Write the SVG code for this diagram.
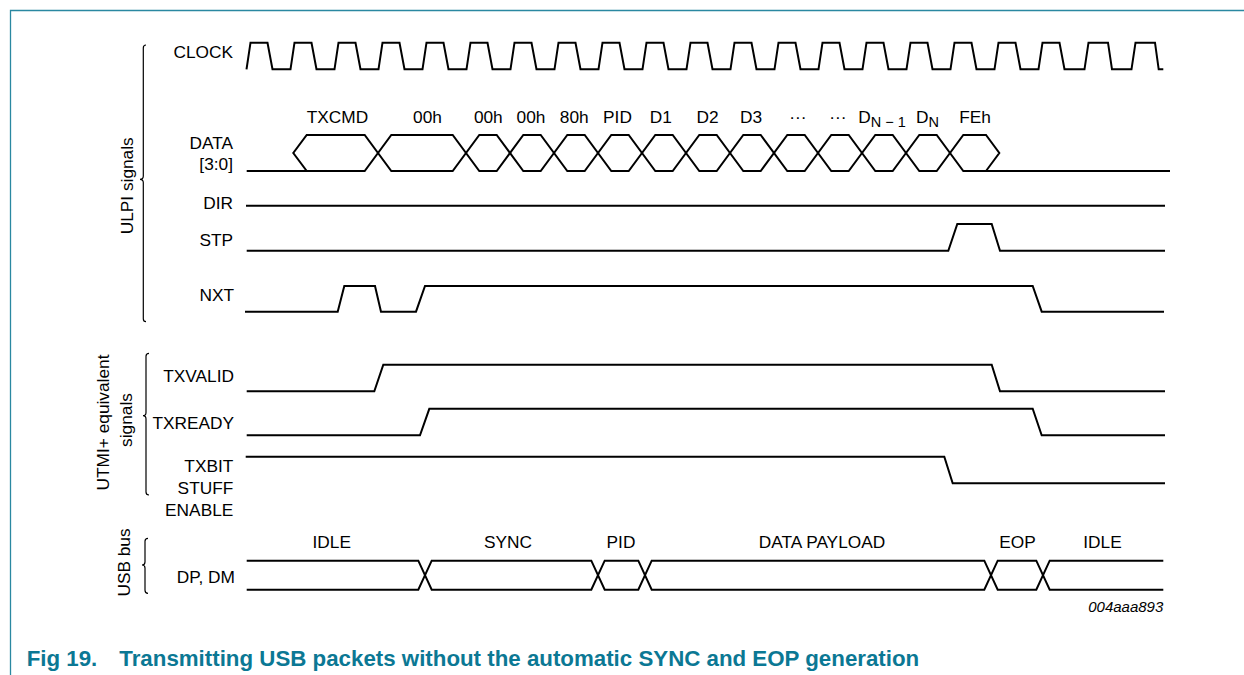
<svg xmlns="http://www.w3.org/2000/svg" width="1244" height="675" viewBox="0 0 1244 675">
<style>
text{font-family:"Liberation Sans",Arial,sans-serif;font-size:17.3px;fill:#000}
.r{text-anchor:end}
.m{text-anchor:middle}
.w{fill:none;stroke:#000;stroke-width:2;stroke-linejoin:miter}
.b{fill:none;stroke:#000;stroke-width:1.2}
.sub{font-size:14.5px}
.cap{font-size:22.3px;font-weight:bold;fill:#0b7894}
.id{font-size:15px;font-style:italic;text-anchor:end}
</style>
<rect width="1244" height="675" fill="#fff"/>
<path d="M10.5,675 V10.5 H1244" fill="none" stroke="#2a88a1" stroke-width="1.3"/>

<g id="group-labels">
<path class="b" d="M146,45 Q143.3,45 143.3,48 V176 Q143.3,179.3 140,179.3 Q143.3,179.3 143.3,182.6 V318.7 Q143.3,321.7 146,321.7"/>
<text class="m" transform="translate(133,185.8) rotate(-90)">ULPI signals</text>
<path class="b" d="M149,353.3 Q146,353.3 146,356.3 V412.5 Q146,415.7 143,415.7 Q146,415.7 146,419 V492 Q146,495 149,495"/>
<text class="m" transform="translate(108.5,422.5) rotate(-90)">UTMI+ equivalent</text>
<text class="m" transform="translate(131.7,420) rotate(-90)">signals</text>
<path class="b" d="M148,538.3 Q145,538.3 145,541.3 V562 Q145,565 142,565 Q145,565 145,568 V590.3 Q145,593.3 148,593.3"/>
<text class="m" transform="translate(130,562.5) rotate(-90)">USB bus</text>
</g>

<g id="clock">
<text class="r" x="233" y="58">CLOCK</text>
<path class="w" d="M246.5,69.3 L250.5,42.7 H267.5 L272.5,69.3 H290.5 L294.5,42.7 H311.5 L316.5,69.3 H334.5 L338.5,42.7 H355.5 L360.5,69.3 H378.5 L382.5,42.7 H399.5 L404.5,69.3 H422.5 L426.5,42.7 H443.5 L448.5,69.3 H466.5 L470.5,42.7 H487.5 L492.5,69.3 H510.5 L514.5,42.7 H531.5 L536.5,69.3 H554.5 L558.5,42.7 H575.5 L580.5,69.3 H598.5 L602.5,42.7 H619.5 L624.5,69.3 H642.5 L646.5,42.7 H663.5 L668.5,69.3 H686.5 L690.5,42.7 H707.5 L712.5,69.3 H730.5 L734.5,42.7 H751.5 L756.5,69.3 H774.5 L778.5,42.7 H795.5 L800.5,69.3 H818.5 L822.5,42.7 H839.5 L844.5,69.3 H862.5 L866.5,42.7 H883.5 L888.5,69.3 H906.5 L910.5,42.7 H927.5 L932.5,69.3 H950.5 L954.5,42.7 H971.5 L976.5,69.3 H994.5 L998.5,42.7 H1015.5 L1020.5,69.3 H1038.5 L1042.5,42.7 H1059.5 L1064.5,69.3 H1084.5 L1088.5,42.7 H1108 L1112,69.3 H1131.5 L1135.5,42.7 H1155 L1158.7,69.3 H1163.3"/>
</g>

<g id="data">
<text class="r" x="233" y="149">DATA</text>
<text class="r" x="233" y="170">[3:0]</text>
<path class="w" d="M246.7,171 H306.7 L293.3,153 L306.7,135 H364.7 L391.3,171 H452.7 L479.3,135 H496.7 L523.3,171 H540.7 L567.3,135 H584.7 L611.3,171 H628.7 L655.3,135 H672.7 L699.3,171 H716.7 L743.3,135 H760.7 L787.3,171 H804.7 L831.3,135 H848.7 L875.3,171 H892.7 L919.3,135 H936.7 L963.3,171 H1170"/>
<path class="w" d="M306.7,171 H364.7 L391.3,135 H452.7 L479.3,171 H496.7 L523.3,135 H540.7 L567.3,171 H584.7 L611.3,135 H628.7 L655.3,171 H672.7 L699.3,135 H716.7 L743.3,171 H760.7 L787.3,135 H804.7 L831.3,171 H848.7 L875.3,135 H892.7 L919.3,171 H936.7 L963.3,135 H986 L999.3,153 L986,171"/>
<text class="m" x="337.5" y="123.3">TXCMD</text>
<text class="m" x="427.5" y="123.3">00h</text>
<text class="m" x="488.3" y="123.3">00h</text>
<text class="m" x="531" y="123.3">00h</text>
<text class="m" x="574.2" y="123.3">80h</text>
<text class="m" x="617.5" y="123.3">PID</text>
<text class="m" x="660.8" y="123.3">D1</text>
<text class="m" x="707.5" y="123.3">D2</text>
<text class="m" x="751" y="123.3">D3</text>
<text class="m" x="798" y="123.3">···</text>
<text class="m" x="838" y="123.3">···</text>
<text x="858.3" y="123.3">D<tspan class="sub" dy="3.5">N − 1</tspan></text>
<text x="916" y="123.3">D<tspan class="sub" dy="3.5">N</tspan></text>
<text class="m" x="975" y="123.3">FEh</text>
</g>

<g id="dir">
<text class="r" x="233" y="209">DIR</text>
<path class="w" d="M246,205.7 H1165"/>
</g>

<g id="stp">
<text class="r" x="233" y="245.7">STP</text>
<path class="w" d="M246.7,250.7 H948.3 L957.3,224 H991.7 L1000,250.7 H1165"/>
</g>

<g id="nxt">
<text class="r" x="234" y="301">NXT</text>
<path class="w" d="M245,311.7 H337.7 L344.3,286 H375 L381,311.7 H416 L425,286 H1032.7 L1041.7,311.7 H1164"/>
</g>

<g id="txvalid">
<text class="r" x="234" y="382">TXVALID</text>
<path class="w" d="M246.7,391.3 H374.3 L383.3,364.8 H991.7 L1000,391.3 H1165"/>
</g>

<g id="txready">
<text class="r" x="234" y="429">TXREADY</text>
<path class="w" d="M246.7,435.3 H420 L429.3,408.8 H1032.7 L1041.7,435.3 H1165"/>
</g>

<g id="txbitstuffenable">
<text class="r" x="233.3" y="472">TXBIT</text>
<text class="r" x="233.3" y="494">STUFF</text>
<text class="r" x="233.3" y="515.7">ENABLE</text>
<path class="w" d="M245.7,456.7 H944.3 L952.7,483.3 H1165"/>
</g>

<g id="dpdm">
<text class="r" x="235" y="583.3">DP, DM</text>
<path class="w" d="M246.7,560.7 H418.3 L431.7,589.7 H591.3 L604.7,560.7 H638.3 L651.7,589.7 H984.3 L997.7,560.7 H1036.3 L1049.7,589.7 H1163.3"/>
<path class="w" d="M246.7,589.7 H418.3 L431.7,560.7 H591.3 L604.7,589.7 H638.3 L651.7,560.7 H984.3 L997.7,589.7 H1036.3 L1049.7,560.7 H1163.3"/>
<text class="m" x="331.7" y="548.3">IDLE</text>
<text class="m" x="508" y="548.3">SYNC</text>
<text class="m" x="621" y="548.3">PID</text>
<text class="m" x="822" y="548.3">DATA PAYLOAD</text>
<text class="m" x="1017.5" y="548.3">EOP</text>
<text class="m" x="1102.5" y="548.3">IDLE</text>
</g>

<text class="id" x="1163.3" y="612.3">004aaa893</text>

<g id="caption">
<text class="cap" x="26.7" y="665.7">Fig 19.</text>
<text class="cap" x="119.3" y="665.7">Transmitting USB packets without the automatic SYNC and EOP generation</text>
</g>
</svg>
